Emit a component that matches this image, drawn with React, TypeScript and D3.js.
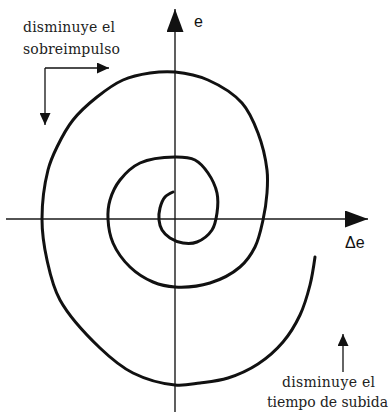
import { useEffect, useRef } from 'react';
import * as d3 from 'd3';

// Phase-plane trajectory (Δe, e), from the centre outwards
const deltaE = [
  -0.2, -1.0, -1.5, -1.6, -1.3, -0.5, 0.8, 2.2, 3.7, 4.2, 4.2, 3.3, 2.0, 0,
  -3.5, -5.5, -6.5, -6.7, -6.2, -4.5, -2.2, 0, 3.5, 6.5, 8.0, 8.8, 9.2, 9.2,
  8.3, 6.7, 3.3, 0, -2.5, -5.2, -7.8, -10.2, -11.8, -12.7, -13.3, -12.8, -11.5,
  -7.5, -4.2, 0, 2.5, 5.3, 8.3, 10.8, 12.5, 13.5, 14.0,
];
const errorE = [
  2.7, 2.2, 1.1, -0.1, -1.1, -1.9, -2.4, -2.3, -1.1, 0.6, 2.6, 4.6, 5.9, 6.2,
  5.6, 3.9, 1.9, 0, -2.4, -4.8, -6.3, -6.8, -6.4, -4.8, -2.8, -0.1, 2.6, 4.9,
  8.6, 11.6, 13.9, 14.7, 14.6, 13.9, 12.2, 9.9, 7.2, 4.9, 0, -4.1, -8.1,
  -12.9, -15.4, -16.6, -16.4, -15.9, -14.5, -12.3, -9.6, -6.6, -3.8,
];

// axis extents (data units)
const xAxisExtent = [-16.9, 19.3];
const yAxisExtent = [-19.3, 21.0];

const axisLabels = { x: 'Δe', y: 'e' };
const noteTop = ['disminuye el', 'sobreimpulso'];
const noteBottom = ['disminuye el', 'tiempo de subida'];

const W = 390;
const H = 412;

export default function App() {
  const svgRef = useRef<SVGSVGElement>(null);

  useEffect(() => {
    const svg = d3.select(svgRef.current);
    svg.selectAll('*').remove();

    const x = d3.scaleLinear().domain([-17, 17]).range([5, 345]);
    const y = d3.scaleLinear().domain([-17, 17]).range([389, 49]);

    // arrowhead markers
    const defs = svg.append('defs');
    const marker = (id: string, w: number, h: number) =>
      defs.append('marker')
        .attr('id', id)
        .attr('viewBox', `0 0 ${w} ${h}`)
        .attr('refX', w)
        .attr('refY', h / 2)
        .attr('markerWidth', w)
        .attr('markerHeight', h)
        .attr('markerUnits', 'userSpaceOnUse')
        .attr('orient', 'auto')
        .append('path')
        .attr('d', `M0,0L${w},${h / 2}L0,${h}Z`)
        .attr('fill', '#111');
    marker('axisHead', 23, 17);
    marker('noteHead', 12, 11);

    // axes
    const axes = svg.append('g').attr('stroke', '#1a1a1a').attr('stroke-width', 1.4);
    axes.append('line')
      .attr('x1', x(xAxisExtent[0])).attr('x2', x(xAxisExtent[1]))
      .attr('y1', y(0)).attr('y2', y(0))
      .attr('marker-end', 'url(#axisHead)');
    axes.append('line')
      .attr('x1', x(0)).attr('x2', x(0))
      .attr('y1', y(yAxisExtent[0])).attr('y2', y(yAxisExtent[1]))
      .attr('marker-end', 'url(#axisHead)');

    // spiral trajectory
    const pts: [number, number][] = deltaE.map((d, i) => [d, errorE[i]]);
    const line = d3.line<[number, number]>()
      .x(d => x(d[0]))
      .y(d => y(d[1]))
      .curve(d3.curveCatmullRom.alpha(0.5));
    svg.append('path')
      .attr('d', line(pts))
      .attr('fill', 'none')
      .attr('stroke', '#111')
      .attr('stroke-width', 3)
      .attr('stroke-linecap', 'round');

    // axis labels
    const sans = 'Liberation Sans, Arial, sans-serif';
    svg.append('text').attr('x', 345).attr('y', 248)
      .attr('font-family', sans).attr('font-size', 16).attr('fill', '#111')
      .text(axisLabels.x);
    svg.append('text').attr('x', 194).attr('y', 27)
      .attr('font-family', sans).attr('font-size', 16).attr('fill', '#111')
      .text(axisLabels.y);

    // annotations
    const serif = "'DejaVu Serif', 'Liberation Serif', serif";
    const note = (txt: string, tx: number, ty: number, len: number) =>
      svg.append('text').attr('x', tx).attr('y', ty)
        .style('font-family', serif).style('font-size', '14px').attr('fill', '#222')
        .attr('textLength', len).attr('lengthAdjust', 'spacing')
        .text(txt);
    note(noteTop[0], 23, 32, 92);
    note(noteTop[1], 23, 54, 97);
    note(noteBottom[0], 282, 387, 93);
    note(noteBottom[1], 267, 407, 121);

    const arrows = svg.append('g').attr('stroke', '#111').attr('stroke-width', 1.3).attr('fill', 'none');
    arrows.append('path').attr('d', 'M45,68H109').attr('marker-end', 'url(#noteHead)');
    arrows.append('path').attr('d', 'M45,68V125').attr('marker-end', 'url(#noteHead)');
    arrows.append('line')
      .attr('x1', 343).attr('x2', 343).attr('y1', 372).attr('y2', 334)
      .attr('marker-end', 'url(#noteHead)');
  }, []);

  return (
    <svg
      ref={svgRef}
      width={W}
      height={H}
      style={{ position: 'absolute', left: 0, top: 0, background: '#fff' }}
    />
  );
}
